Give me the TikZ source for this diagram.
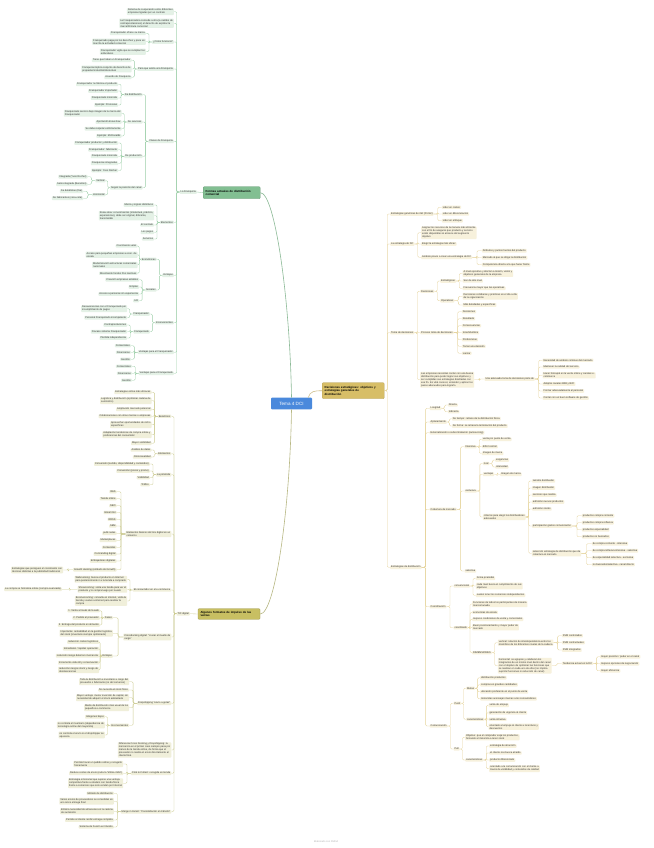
\documentclass[tikz,border=0pt]{standalone}
\usepackage{fontspec}
\setmainfont{Liberation Sans}
\usetikzlibrary{calc}
\definecolor{gF}{HTML}{E4F1E6}
\definecolor{gL}{HTML}{9CCFA8}
\definecolor{gB}{HTML}{82BF92}
\definecolor{oF}{HTML}{F0EFDA}
\definecolor{oL}{HTML}{CDCC92}
\definecolor{oB}{HTML}{C8BF62}
\definecolor{yF}{HTML}{F7F1DC}
\definecolor{yL}{HTML}{E6D49C}
\definecolor{yB}{HTML}{D7BE67}
\definecolor{rB}{HTML}{4A89DC}
\definecolor{tx}{HTML}{333333}
\newcommand\NL[4]{\node[#1,anchor=east] (#2) at (#3) {#4};}
\newcommand\NR[4]{\node[#1,anchor=west] (#2) at (#3) {#4};}
\newcommand\cL[3]{\foreach \ch in {#3}{\draw[#1] (#2.west) -- ($(#2.west)!0.5!(#2.west -| \ch.east)$) |- (\ch.east);}}
\newcommand\cR[3]{\foreach \ch in {#3}{\draw[#1] (#2.east) -- ($(#2.east)!0.5!(#2.east -| \ch.west)$) |- (\ch.west);}}
\begin{document}
\begin{tikzpicture}[x=1pt,y=-1pt,font=\fontsize{2.5}{3}\selectfont,text=tx,
  bx/.style={rounded corners=0.8pt,inner xsep=1pt,inner ysep=0.75pt,align=left},
  gnode/.style={bx,fill=gF},onode/.style={bx,fill=oF},ynode/.style={bx,fill=yF},
  gline/.style={draw=gL,line width=0.35pt,rounded corners=1.2pt},
  oline/.style={draw=oL,line width=0.35pt,rounded corners=1.2pt},
  yline/.style={draw=yL,line width=0.35pt,rounded corners=1.2pt},
  topbox/.style={rounded corners=1pt,inner xsep=2.5pt,inner ysep=1.2pt,align=left,font=\fontsize{2.9}{3.3}\selectfont\bfseries,text=black}]
\fill[white] (0,0) rectangle (653,848);
\useasboundingbox (0,0) rectangle (653,848);

% ---------- root and main boxes
\node[fill=rB,text=white,rounded corners=1pt,minimum width=41pt,minimum height=11.6pt,font=\fontsize{4.6}{5}\selectfont] (root) at (291.5,403.5) {Tema 4 DCI};
\node[topbox,fill=gB,draw=gB!80!black,line width=0.3pt,text width=52pt,minimum height=12pt] (gbox) at (231.7,192.7) {Formas actuales de distribución\\comercial};
\node[topbox,fill=oB,draw=oB!80!black,line width=0.3pt,text width=57pt,minimum height=10.6pt] (obox) at (229,614) {Algunos formatos de impulso de las\\ventas};
\node[topbox,fill=yB,draw=yB!85!black,line width=0.3pt,text width=57pt,minimum height=16pt] (ybox) at (353.2,390.7) {Decisiones estratégicas: objetivos y\\estrategias generales de\\distribución};
\draw[draw=gL!90!black,line width=0.6pt] (gbox.east) .. controls (275,192.7) and (290,300) .. (root.north);
\draw[draw=oL!90!black,line width=0.6pt] (obox.east) .. controls (275,614) and (290,510) .. (root.south);
\draw[draw=yL!90!black,line width=0.6pt] ($(root.north east)+(-4,0)$) .. controls (310,391) and (315,390.7) .. (ybox.west);

% ================= GREEN BRANCH
\NL{gnode}{fr}{197,192}{La Franquicia}
\draw[gline] (gbox.west) -- (fr.east);
\NL{gnode}{g1}{174,11.7}{Sistema de cooperación entre diferentes\\empresas ligadas por un contrato}
\NL{gnode}{g2}{174,23.3}{La Franquiciadora concede a otra (a cambio de\\contraprestaciones) el derecho de explotar la\\marca/fórmula comercial}
\NL{gnode}{g3}{174,42}{¿Cómo funciona?}
\NL{gnode}{g4}{174,69}{Para que exista una Franquicia}
\NL{gnode}{g5}{174,141.3}{Clases de Franquicia}
\NL{gnode}{g6}{174,222.3}{Elementos}
\NL{gnode}{g7}{174,275.3}{Ventajas}
\NL{gnode}{g8}{174,322.7}{Inconvenientes}
\NL{gnode}{g9}{174,352.3}{Ventajas para el Franquiciador}
\NL{gnode}{g10}{174,373.3}{Ventajas para el Franquiciado}
\cL{gline}{fr}{g1,g2,g3,g4,g5,g6,g7,g8,g9,g10}

\NL{gnode}{g3a}{146,33.3}{Franquiciador ofrece su marca}
\NL{gnode}{g3b}{146,41.7}{Franquiciado paga por los derechos y pone en\\marcha la actividad comercial}
\NL{gnode}{g3c}{146,51.7}{Franquiciador vigila que se cumplan los\\estándares}
\cL{gline}{g3}{g3a,g3b,g3c}

\NL{gnode}{g4a}{131.7,60.3}{Tiene que haber un Franquiciador}
\NL{gnode}{g4b}{131.7,69}{Franquicia implica conjunto de derechos de\\propiedad industrial/intelectual}
\NL{gnode}{g4c}{131.7,77.3}{Acuerdo de Franquicia}
\cL{gline}{g4}{g4a,g4b,g4c}

\NL{gnode}{g5a}{142.7,94.7}{De distribución}
\NL{gnode}{g5b}{142.7,122}{De servicios}
\NL{gnode}{g5c}{142.7,156.3}{De producción}
\NL{gnode}{g5d}{142.7,187.7}{Según la posición del canal}
\cL{gline}{g5}{g5a,g5b,g5c,g5d}

\NL{gnode}{g5a1}{118.3,84.3}{Franquiciador no fabrica el producto}
\NL{gnode}{g5a2}{118.3,91}{Franquiciador importador}
\NL{gnode}{g5a3}{118.3,98}{Franquiciado minorista}
\NL{gnode}{g5a4}{118.3,105}{Ejemplo: Pronovias}
\cL{gline}{g5a}{g5a1,g5a2,g5a3,g5a4}

\NL{gnode}{g5b1}{121.7,113.3}{Franquiciado servicio bajo imagen de la marca del\\Franquiciador}
\NL{gnode}{g5b2}{121.7,122}{Aportación know-how}
\NL{gnode}{g5b3}{121.7,128.7}{Se debe respetar estrictamente}
\NL{gnode}{g5b4}{121.7,136}{Ejemplo: McDonalds}
\cL{gline}{g5b}{g5b1,g5b2,g5b3,g5b4}

\NL{gnode}{g5c1}{118.3,143}{Franquiciador productor y distribución}
\NL{gnode}{g5c2}{118.3,149.7}{Franquiciador: fabricante}
\NL{gnode}{g5c3}{118.3,156.3}{Franquiciado minorista}
\NL{gnode}{g5c4}{118.3,163.3}{Franquicias integradas}
\NL{gnode}{g5c5}{118.3,170.5}{Ejemplo: Yves Rocher}
\cL{gline}{g5c}{g5c1,g5c2,g5c3,g5c4,g5c5}

\NL{gnode}{g5d1}{105.7,180.7}{Vertical}
\NL{gnode}{g5d2}{105.7,194.7}{Horizontal}
\cL{gline}{g5d}{g5d1,g5d2}
\NL{gnode}{g5d1a}{87.7,176.7}{Integrada (Yves Rocher)}
\NL{gnode}{g5d1b}{87.7,184.3}{Semi-integrada (Benetton)}
\cL{gline}{g5d1}{g5d1a,g5d1b}
\NL{gnode}{g5d2a}{83.3,191.3}{De detallistas (Dia)}
\NL{gnode}{g5d2b}{83.3,198.3}{De fabricantes (coca-cola)}
\cL{gline}{g5d2}{g5d2a,g5d2b}

\NL{gnode}{g6a}{154.3,205}{Marca y signos distintivos}
\NL{gnode}{g6b}{154.3,215.7}{Know-How: conocimientos (intelectual, práctico,\\experiencias), debe ser original, diferente,\\transmisible}
\NL{gnode}{g6c}{154.3,225}{El contrato}
\NL{gnode}{g6d}{154.3,232.3}{Los pagos}
\NL{gnode}{g6e}{154.3,239}{Servicios}
\cL{gline}{g6}{g6a,g6b,g6c,g6d,g6e}

\NL{gnode}{g7a}{156.7,259.3}{Económicas}
\NL{gnode}{g7b}{156.7,290}{Sociales}
\cL{gline}{g7}{g7a,g7b}
\NL{gnode}{g7a1}{137.7,246}{Crecimiento veloz}
\NL{gnode}{g7a2}{137.7,254.7}{Acceso para pequeñas empresas a econ. de\\escala}
\NL{gnode}{g7a3}{137.7,265}{Modernización estructuras comerciales\\nacionales}
\NL{gnode}{g7a4}{137.7,273.3}{Movimiento fondos Pos inactivos}
\cL{gline}{g7a}{g7a1,g7a2,g7a3,g7a4}
\NL{gnode}{g7b1}{139.3,279.7}{Creación empresas estables}
\NL{gnode}{g7b2}{139.3,287}{Empleo}
\NL{gnode}{g7b3}{139.3,294}{Acceso a personas sin experiencia}
\NL{gnode}{g7b4}{139.3,300.7}{I+D}
\cL{gline}{g7b}{g7b1,g7b2,g7b3,g7b4}

\NL{gnode}{g8a}{150,314}{Franquiciador}
\NL{gnode}{g8b}{150,331.7}{Franquiciado}
\cL{gline}{g8}{g8a,g8b}
\NL{gnode}{g8a1}{127.3,308.7}{Desavenencias con el Franquiciado por\\incumplimiento de pagos}
\NL{gnode}{g8a2}{127.3,317.7}{Personal Franquiciado incompetente}
\cL{gline}{g8a}{g8a1,g8a2}
\NL{gnode}{g8b1}{127.3,325}{Contraprestaciones}
\NL{gnode}{g8b2}{127.3,331.7}{Fracaso sistema Franquiciador}
\NL{gnode}{g8b3}{127.3,338}{Pérdida independencia}
\cL{gline}{g8b}{g8b1,g8b2,g8b3}

\NL{gnode}{g9a}{131,345.7}{Comerciales}
\NL{gnode}{g9b}{131,352.3}{Financieras}
\NL{gnode}{g9c}{131,359.3}{Gestión}
\cL{gline}{g9}{g9a,g9b,g9c}
\NL{gnode}{g10a}{132,366.3}{Comerciales}
\NL{gnode}{g10b}{132,373.3}{Financieras}
\NL{gnode}{g10c}{132,380.3}{Gestión}
\cL{gline}{g10}{g10a,g10b,g10c}

% ================= OLIVE BRANCH
\NL{onode}{tic}{190,613.7}{TIC digital}
\draw[oline] (obox.west) -- (tic.east);
\NL{onode}{o1}{171.5,416.3}{Beneficios}
\NL{onode}{o2}{171.5,453.7}{Elementos}
\NL{onode}{o3}{171.5,474.7}{La pirámide}
\NL{onode}{o4}{171.5,534}{Elementos básicos del mix digital en un\\comercio}
\NL{onode}{o5}{171.5,590}{El consumidor en el e-commerce}
\NL{onode}{o6}{171.5,637}{Crossdocking digital: "cruzar el muelle de\\carga"}
\NL{onode}{o7}{171.5,703.3}{Dropshipping "envío a gotas"}
\NL{onode}{o8}{171.5,750}{Diferencia Cross Docking y Dropshipping: la\\mercancía en el primer caso siempre pasa por\\manos de la tienda online, de forma que el\\proveedor no realiza el envío directamente al\\cliente final.}
\NL{onode}{o9}{171.5,773.3}{Click \& Collect: recogida en tienda}
\NL{onode}{o10}{171.5,811.7}{Merge in transit: "Consolidación en tránsito"}
\cL{oline}{tic}{o1,o2,o3,o4,o5,o6,o7,o8,o9,o10}

\NL{onode}{o1a}{151.7,392.3}{Estrategias online más eficaces}
\NL{onode}{o1b}{151.7,400.7}{Logística y distribución (optimizar cadena de\\suministro)}
\NL{onode}{o1c}{151.7,409.3}{Ampliación mercado potencial}
\NL{onode}{o1d}{151.7,416.3}{Colaboraciones con otras marcas o empresas}
\NL{onode}{o1e}{151.7,424.7}{Aprovechar oportunidades de nicho\\específicas}
\NL{onode}{o1f}{151.7,434.7}{Adaptación tendencias de compra online y\\preferencias del consumidor}
\NL{onode}{o1g}{151.7,443.3}{Mayor visibilidad}
\cL{oline}{o1}{o1a,o1b,o1c,o1d,o1e,o1f,o1g}

\NL{onode}{o2a}{151.7,450}{Análisis de datos}
\NL{onode}{o2b}{151.7,457}{Omnicanalidad}
\cL{oline}{o2}{o2a,o2b}

\NL{onode}{o3a}{150,464}{Conversión (surtido, disponibilidad y contenidos)}
\NL{onode}{o3b}{150,471}{Conversión (precio y promo)}
\NL{onode}{o3c}{150,477.7}{Visibilidad}
\NL{onode}{o3d}{150,484.7}{Tráfico}
\cL{oline}{o3}{o3a,o3b,o3c,o3d}

\NL{onode}{o4a}{116.7,491.7}{Web}
\NL{onode}{o4b}{116.7,498.7}{Tienda online}
\NL{onode}{o4c}{116.7,505.7}{SEO}
\NL{onode}{o4d}{116.7,512.5}{Email mkt}
\NL{onode}{o4e}{116.7,519.3}{RRSS}
\NL{onode}{o4f}{116.7,526}{SEM}
\NL{onode}{o4g}{116.7,533.3}{publi redes}
\NL{onode}{o4h}{116.7,540.3}{Marketplaces}
\NL{onode}{o4i}{116.7,547.3}{Contenidos}
\NL{onode}{o4j}{116.7,554}{Co-branding digital}
\NL{onode}{o4k}{116.7,561}{Embajadores digitales}
\NL{onode}{o4l}{116.7,569.7}{Growth Hacking (embudo de Growth)}
\cL{oline}{o4}{o4a,o4b,o4c,o4d,o4e,o4f,o4g,o4h,o4i,o4j,o4k,o4l}
\NL{onode}{o4l1}{63.3,570}{Estrategias que persiguen el crecimiento con\\técnicas distintas a la publicidad tradicional}
\cL{oline}{o4l}{o4l1}

\NL{onode}{o5a}{127.3,579.3}{Webrooming: busca el producto en Internet\\para posteriormente ir a la tienda a comprarlo}
\NL{onode}{o5b}{127.3,589.3}{Showrooming: visita una tienda para ver el\\producto y lo compra luego por la web}
\NL{onode}{o5c}{127.3,601}{Boomerooming: consulta en internet, visita la\\tienda y vuelve a internet para realizar la\\compra}
\cL{oline}{o5}{o5a,o5b,o5c}
\NL{onode}{o5b1}{62,589.3}{La compra se formaliza online (compra avanzada)}
\cL{oline}{o5b}{o5b1}

\NL{onode}{o6a}{113,617.7}{Fases}
\NL{onode}{o6b}{113,633.3}{Importante: rentabilidad en la gestión logística\\del stock (inventario siempre optimizado)}
\NL{onode}{o6c}{113,656}{Ventajas}
\cL{oline}{o6}{o6a,o6b,o6c}
\NL{onode}{o6a1}{100,610.7}{1. Venta a través de la web}
\NL{onode}{o6a2}{100,618}{2. Pedido al proveedor}
\NL{onode}{o6a3}{100,625}{3. Entrega del producto en almacén}
\cL{oline}{o6a}{o6a1,o6a2,o6a3}
\NL{onode}{o6c1}{99.3,642}{reducción costes logísticos}
\NL{onode}{o6c2}{99.3,648.7}{Inmediatez / rapidez operación}
\NL{onode}{o6c3}{99.3,655.7}{reducción riesgo deterioro mercancía}
\NL{onode}{o6c4}{99.3,662.7}{Incremento vida útil y conservación}
\NL{onode}{o6c5}{99.3,670}{reducción riesgos stock y riesgo de\\obsolescencias}
\cL{oline}{o6c}{o6c1,o6c2,o6c3,o6c4,o6c5}

\NL{onode}{o7a}{129.3,681.7}{Toda la distribución e inventario a cargo del\\proveedor o fabricante (no del comercio)}
\NL{onode}{o7b}{129.3,690}{No necesita el stock físico}
\NL{onode}{o7c}{129.3,697.7}{Mayor ventaja: menor inversión de capital, sin\\necesidad de adquirir el stock adelantado}
\NL{onode}{o7d}{129.3,707.7}{Medio de distribución más usual de los\\pequeños e-commerce}
\NL{onode}{o7e}{129.3,725.3}{Inconvenientes}
\cL{oline}{o7}{o7a,o7b,o7c,o7d,o7e}
\NL{onode}{o7e1}{105,716.7}{márgenes bajos}
\NL{onode}{o7e2}{105,725}{no controla el inventario (dependencia de\\tecnología online del mayorista)}
\NL{onode}{o7e3}{105,735}{no controla el envío si el dropshipper se\\equivoca}
\cL{oline}{o7e}{o7e1,o7e2,o7e3}

\NL{onode}{o9a}{123.3,764}{Permite hacer un pedido online y recogerlo\\físicamente}
\NL{onode}{o9b}{123.3,773.3}{Reduce costes de envío (evita la "última milla")}
\NL{onode}{o9c}{123.3,783.3}{Estrategia omnicanal que supone una ventaja\\competitiva frente a retailers con tienda física\\frente a comercios que solo venden por Internet}
\cL{oline}{o9}{o9a,o9b,o9c}

\NL{onode}{o10a}{114,793.3}{Método de distribución}
\NL{onode}{o10b}{114,801.3}{Varios envíos de proveedores se consolidan en\\uno único entrega final}
\NL{onode}{o10c}{114,811.3}{Elimina necesidad de almacenes en la cadena\\de suministro}
\NL{onode}{o10d}{114,820}{Permite al cliente recibir entrega completa}
\NL{onode}{o10e}{114,827}{Sistema de Fusión en tránsito}
\cL{oline}{o10}{o10a,o10b,o10c,o10d,o10e}

% ================= GOLD BRANCH
\NR{ynode}{y1}{390,214}{Estrategias genéricas de mkt (Porter)}
\NR{ynode}{y2}{390,244}{La estrategia de DC}
\NR{ynode}{y3}{390,332.7}{Toma de decisiones}
\NR{ynode}{y4}{390,567.3}{Estrategias de distribución}
\cR{yline}{ybox}{y1,y2,y3,y4}

\NR{ynode}{y1a}{441.7,207.3}{Líder en costes}
\NR{ynode}{y1b}{441.7,214}{Líder en diferenciación}
\NR{ynode}{y1c}{441.7,220.7}{Líder en enfoque}
\cR{yline}{y1}{y1a,y1b,y1c}

\NR{ynode}{y2a}{421,232.7}{Asignar los recursos de la manera más eficiente\\con el fin de asegurar que producto y servicio\\estén disponibles al alcance del segmento\\objetivo}
\NR{ynode}{y2b}{421,244}{Elegir la estrategia más eficaz}
\NR{ynode}{y2c}{421,257.3}{Análisis previo a crear una estrategia de DC}
\cR{yline}{y2}{y2a,y2b,y2c}
\NR{ynode}{y2c1}{481.7,250.7}{Atributos y puntos fuertes del producto}
\NR{ynode}{y2c2}{481.7,257.7}{Mercado al que se dirige la distribución}
\NR{ynode}{y2c3}{481.7,264.7}{Competencia directa a la que hacer frente}
\cR{yline}{y2c}{y2c1,y2c2,y2c3}

\NR{ynode}{y3a}{420,291.3}{Decisiones}
\NR{ynode}{y3b}{420,332.7}{Proceso toma de decisiones}
\NR{ynode}{y3c}{420,379.7}{Las empresas necesitan contar con una buena\\distribución para poder lograr sus objetivos y\\ser cumplidas sus estrategias diseñadas con\\ese fin. Es vital conocer, entender y aplicar los\\pasos adecuados para lograrlo.}
\cR{yline}{y3}{y3a,y3b,y3c}
\NR{ynode}{y3a1}{440,281}{Estratégicas}
\NR{ynode}{y3a2}{440,300.7}{Operativas}
\cR{yline}{y3a}{y3a1,y3a2}
\NR{ynode}{e1}{462.3,273.5}{A nivel ejecutivo y afectan a misión, visión y\\objetivos generales de la empresa}
\NR{ynode}{e2}{462.3,281}{Son de alto nivel}
\NR{ynode}{e3}{462.3,288.3}{Frecuencia mayor que las operativas}
\cR{yline}{y3a1}{e1,e2,e3}
\NR{ynode}{op1}{462.3,296.2}{Decisiones cotidianas y prácticas en el día a día\\de la organización}
\NR{ynode}{op2}{462.3,305}{Más detalladas y específicas}
\cR{yline}{y3a2}{op1,op2}
\NR{ynode}{pd1}{461.7,311.7}{Decisiones}
\NR{ynode}{pd2}{461.7,318.7}{Resultado}
\NR{ynode}{pd3}{461.7,325.7}{Consecuencias}
\NR{ynode}{pd4}{461.7,332.7}{Incertidumbre}
\NR{ynode}{pd5}{461.7,339.7}{Preferencias}
\NR{ynode}{pd6}{461.7,346.3}{Tomar una decisión}
\NR{ynode}{pd7}{461.7,353.3}{Lanzar}
\cR{yline}{y3b}{pd1,pd2,pd3,pd4,pd5,pd6,pd7}
\NR{ynode}{yc1}{484.3,379}{Una adecuada toma de decisiones parte de}
\cR{yline}{y3c}{yc1}
\NR{ynode}{yc1a}{542.3,360.3}{Necesidad de análisis continuo del mercado}
\NR{ynode}{yc1b}{542.3,367}{Mantener la calidad del servicio}
\NR{ynode}{yc1c}{542.3,375.3}{Hacer hincapié en la venta online y canales e-\\commerce}
\NR{ynode}{yc1d}{542.3,384}{Adoptar canales B2B y B2C}
\NR{ynode}{yc1e}{542.3,391}{Formar adecuadamente al personal}
\NR{ynode}{yc1f}{542.3,398}{Contar con un buen software de gestión}
\cR{yline}{yc1}{yc1a,yc1b,yc1c,yc1d,yc1e,yc1f}

\NR{ynode}{d1}{429.5,408.3}{Longitud}
\NR{ynode}{d2}{429.5,422}{Aplazamiento}
\NR{ynode}{d3}{429.5,432.7}{Externalización o subcontratación (outsourcing)}
\NR{ynode}{d4}{429.5,509.3}{Cobertura de mercado}
\NR{ynode}{d5}{429.5,606.7}{Coordinación}
\NR{ynode}{d6}{429.5,726}{Comunicación}
\cR{yline}{y4}{d1,d2,d3,d4,d5,d6}
\NR{ynode}{d1a}{447.7,405}{Directa}
\NR{ynode}{d1b}{447.7,411.7}{Indirecta}
\cR{yline}{d1}{d1a,d1b}
\NR{ynode}{d2a}{451.7,418.7}{De tiempo: retraso de la distribución física}
\NR{ynode}{d2b}{451.7,426}{De forma: se retrasa la terminación del producto}
\cR{yline}{d2}{d2a,d2b}

\NR{ynode}{c1}{464.3,446.7}{Intensiva}
\NR{ynode}{c2}{464.3,491}{exclusiva}
\NR{ynode}{c3}{464.3,571}{selectiva}
\cR{yline}{d4}{c1,c2,c3}
\NR{ynode}{c1a}{481.7,439.3}{venta por punto de venta}
\NR{ynode}{c1b}{481.7,446.7}{difícil control}
\NR{ynode}{c1c}{481.7,453.3}{Imagen de marca}
\cR{yline}{c1}{c1a,c1b,c1c}
\NR{ynode}{c2a}{482.7,463.5}{rival}
\NR{ynode}{c2b}{482.7,474.3}{ventajas}
\NR{ynode}{c2c}{482.7,517}{criterios para elegir los distribuidores\\adecuados}
\cR{yline}{c2}{c2a,c2b,c2c}
\NR{ynode}{c2a1}{495,460}{exigencias}
\NR{ynode}{c2a2}{495,467}{intensidad}
\cR{yline}{c2a}{c2a1,c2a2}
\NR{ynode}{c2b1}{500,474.3}{Imagen de marca}
\cR{yline}{c2b}{c2b1}
\NR{ynode}{k1}{531.7,481}{tamaño distribuidor}
\NR{ynode}{k2}{531.7,488}{imagen distribuidor}
\NR{ynode}{k3}{531.7,495}{servicios que realiza}
\NR{ynode}{k4}{531.7,502}{admisión nuevos productos}
\NR{ynode}{k5}{531.7,509}{admisión stocks}
\NR{ynode}{k6}{531.7,526}{participación gastos comunicación}
\NR{ynode}{k7}{531.7,553.3}{selección estrategia de distribución que da\\cobertura al mercado}
\cR{yline}{c2c}{k1,k2,k3,k4,k5,k6,k7}
\NR{ynode}{k6a}{581.7,515.7}{productos compra corriente}
\NR{ynode}{k6b}{581.7,522.7}{productos compra reflexiva}
\NR{ynode}{k6c}{581.7,529.7}{productos especialidad}
\NR{ynode}{k6d}{581.7,536.7}{productos no buscados}
\cR{yline}{k6}{k6a,k6b,k6c,k6d}
\NR{ynode}{k7a}{591.7,543.7}{de compra corriente - intensiva}
\NR{ynode}{k7b}{591.7,550.7}{de compra reflexiva intensiva - selectiva}
\NR{ynode}{k7c}{591.7,557.7}{de especialidad selectiva - exclusiva}
\NR{ynode}{k7d}{591.7,564.7}{no buscados/selectiva - canal directo}
\cR{yline}{k7}{k7a,k7b,k7c,k7d}

\NR{ynode}{v1}{453.3,586}{convencional}
\NR{ynode}{v2}{453.3,627.7}{coordinado}
\cR{yline}{d5}{v1,v2}
\NR{ynode}{v1a}{475.7,578.3}{forma piramidal}
\NR{ynode}{v1b}{475.7,586}{cada nivel busca el cumplimiento de sus\\objetivos}
\NR{ynode}{v1c}{475.7,595.3}{suelen tener los comercios independientes}
\cR{yline}{v1}{v1a,v1b,v1c}
\NR{ynode}{v2a}{472,604}{Funciones de todos los participantes de manera\\mancomunada}
\NR{ynode}{v2b}{472,612.3}{economías de escala}
\NR{ynode}{v2c}{472,619.3}{mejores condiciones de venta y comerciales}
\NR{ynode}{v2d}{472,627.3}{Buen posicionamiento y mayor poder de\\mercado}
\NR{ynode}{v2e}{472,652.7}{DIMENSIONES}
\cR{yline}{v2}{v2a,v2b,v2c,v2d,v2e}
\NR{ynode}{dm1}{497.7,642.7}{vertical: relación de interdependencia entre los\\miembros de los diferentes niveles de la cadena}
\NR{ynode}{dm2}{497.7,665.7}{horizontal: se agrupan y colaboran los\\integrantes de un mismo nivel dentro del canal\\con el objetivo de optimizar las funciones que\\se realizan en cada uno de ellos (no implica\\suprimir funciones ni reducción de canal)}
\cR{yline}{v2e}{dm1,dm2}
\NR{ynode}{dm1a}{561.7,635.7}{SVM controlados}
\NR{ynode}{dm1b}{561.7,642.7}{SVM contractuales}
\NR{ynode}{dm1c}{561.7,650}{SVM integrados}
\cR{yline}{dm1}{dm1a,dm1b,dm1c}
\NR{ynode}{dm2a}{561.7,663.3}{Tendencia actual en la DC}
\cR{yline}{dm2}{dm2a}
\NR{ynode}{t1}{600,656.7}{mayor posición / poder en el canal}
\NR{ynode}{t2}{600,663.7}{mejores opciones de negociación}
\NR{ynode}{t3}{600,670.7}{mayor eficiencia}
\cR{yline}{dm2a}{t1,t2,t3}

\NR{ynode}{pu}{453.3,703.3}{Push}
\NR{ynode}{pl}{453.3,749}{Pull}
\cR{yline}{d6}{pu,pl}
\NR{ynode}{pu1}{466,688.3}{Metas}
\NR{ynode}{pu2}{466,719.3}{características}
\cR{yline}{pu}{pu1,pu2}
\NR{ynode}{m1}{480,677.7}{distribución productos}
\NR{ynode}{m2}{480,684.7}{compras en grandes cantidades}
\NR{ynode}{m3}{480,691.7}{ubicación preferente en el punto de venta}
\NR{ynode}{m4}{480,698.7}{minoristas aconsejan marcas a los consumidores}
\cR{yline}{pu1}{m1,m2,m3,m4}
\NR{ynode}{h1}{488.3,705.3}{venta de empuje}
\NR{ynode}{h2}{488.3,712.7}{generación de urgencia al cliente}
\NR{ynode}{h3}{488.3,719.3}{venta intrusiva}
\NR{ynode}{h4}{488.3,726.7}{orientado al empuje al cliente a incentivos y\\descuentos}
\cR{yline}{pu2}{h1,h2,h3,h4}
\NR{ynode}{pl1}{465,737.3}{Objetivo: que el comprador exija los productos,\\forzando al minorista a tener stock}
\NR{ynode}{pl2}{465,760}{características}
\cR{yline}{pl}{pl1,pl2}
\NR{ynode}{r1}{489,746}{estrategia de atracción}
\NR{ynode}{r2}{489,753}{el cliente nos busca atraído}
\NR{ynode}{r3}{489,760}{producto diferenciado}
\NR{ynode}{r4}{489,768.7}{orientado a la comunicación con el cliente a\\través de visibilidad y contenidos de calidad}
\cR{yline}{pl2}{r1,r2,r3,r4}

\node[text=black!30] (wm) at (326,841.5) {Elaborado con XMind};
\end{tikzpicture}
\end{document}
